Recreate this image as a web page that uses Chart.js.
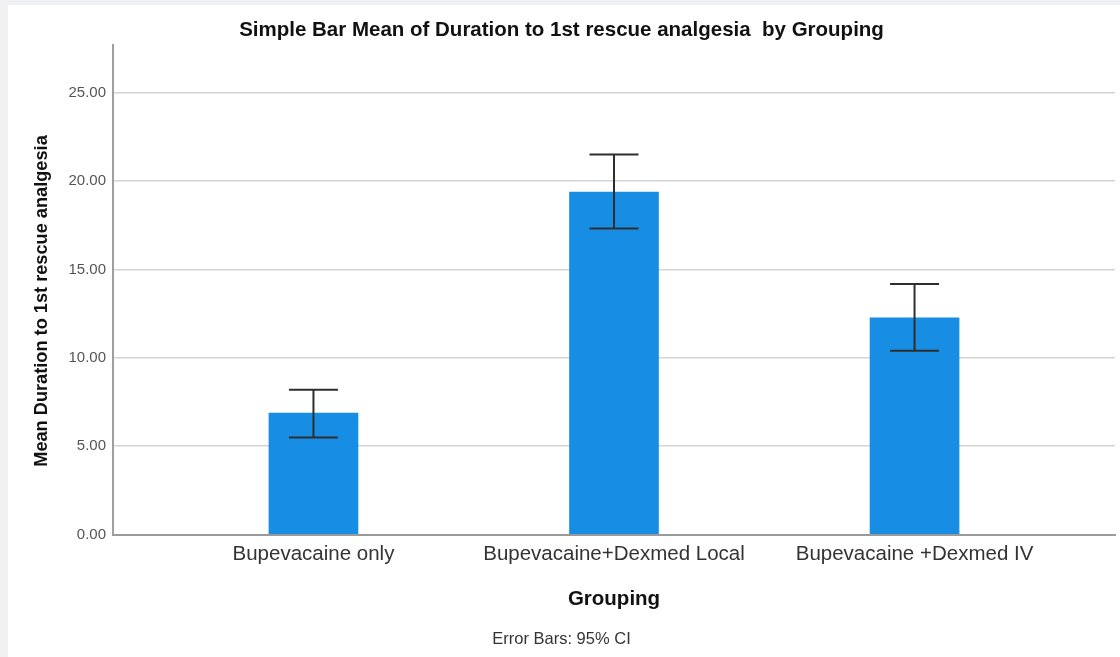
<!DOCTYPE html>
<html>
<head>
<meta charset="utf-8">
<script src="https://cdn.jsdelivr.net/npm/chart.js@4.4.1/dist/chart.umd.min.js"></script>
<style>
  html, body { margin: 0; padding: 0; background: #f0f1f3; width: 1120px; height: 657px; overflow: hidden; }
  #panel { position: absolute; left: 8px; top: 5px; width: 1112px; height: 652px; background: #ffffff; }
  canvas { display: block; }
</style>
</head>
<body>
<div id="panel"><canvas id="chart" width="1112" height="652"></canvas></div>
<script>
// Groups and their mean duration (hours) with 95% confidence limits
const groups = ['Bupevacaine only', 'Bupevacaine+Dexmed Local', 'Bupevacaine +Dexmed IV'];
const means = [6.87, 19.38, 12.26];
const ciLow = [5.49, 17.32, 10.40];
const ciHigh = [8.19, 21.51, 14.18];
const yTicks = [0, 5, 10, 15, 20, 25];

const FONT = '"Liberation Sans", Arial, sans-serif';

// Draws the 95% CI whiskers with caps over each bar
const errorBars = {
  id: 'errorBars',
  afterDatasetsDraw(chart) {
    const { ctx, scales: { x, y } } = chart;
    ctx.save();
    ctx.strokeStyle = '#2e2e2e';
    ctx.lineWidth = 2;
    groups.forEach((_, i) => {
      const px = x.getPixelForValue(i);
      const top = y.getPixelForValue(ciHigh[i]);
      const bot = y.getPixelForValue(ciLow[i]);
      const half = 24.5;
      ctx.beginPath();
      ctx.moveTo(px, top); ctx.lineTo(px, bot);
      ctx.moveTo(px - half, top); ctx.lineTo(px + half, top);
      ctx.moveTo(px - half, bot); ctx.lineTo(px + half, bot);
      ctx.stroke();
    });
    ctx.restore();
  }
};

// Vertical axis caption
const yCaption = {
  id: 'yCaption',
  afterDraw(chart) {
    const { ctx } = chart;
    ctx.save();
    ctx.translate(34, 296);
    ctx.rotate(-Math.PI / 2);
    ctx.font = 'bold 18.2px ' + FONT;
    ctx.fillStyle = '#111';
    ctx.textAlign = 'center';
    ctx.textBaseline = 'middle';
    ctx.fillText('Mean Duration to 1st rescue analgesia', 0, 0);
    ctx.restore();
  }
};

new Chart(document.getElementById('chart'), {
  type: 'bar',
  data: {
    datasets: [{
      data: means.map((v, i) => ({ x: i, y: v })),
      backgroundColor: '#178ee3',
      borderWidth: 0,
      barThickness: 89
    }]
  },
  plugins: [errorBars, yCaption],
  options: {
    responsive: false,
    animation: false,
    layout: { padding: { left: 0, right: 5, top: 0, bottom: 0 } },
    plugins: {
      legend: { display: false },
      tooltip: { enabled: false },
      title: {
        display: true,
        text: 'Simple Bar Mean of Duration to 1st rescue analgesia  by Grouping',
        color: '#111',
        font: { family: FONT, size: 20.5, weight: 'bold', lineHeight: 1.2 },
        padding: { top: 13, bottom: 2.4 }
      },
      subtitle: {
        display: true,
        position: 'bottom',
        text: 'Error Bars: 95% CI',
        color: '#333',
        font: { family: FONT, size: 16.5, lineHeight: 1.2 },
        padding: { top: 0, bottom: 8.1 }
      }
    },
    scales: {
      x: {
        type: 'linear',
        offset: false,
        min: -0.667,
        max: 2.667,
        afterBuildTicks(scale) { scale.ticks = groups.map((_, i) => ({ value: i })); },
        afterFit(scale) { scale.height = 94.6; },
        ticks: {
          callback: (v) => groups[v],
          color: '#333',
          font: { family: FONT, size: 20.5 },
          padding: 7.7,
          autoSkip: false,
          maxRotation: 0
        },
        grid: { display: false, drawTicks: false },
        border: { display: true, color: '#9a9a9a', width: 2 },
        title: {
          display: true,
          text: 'Grouping',
          color: '#111',
          font: { family: FONT, size: 20.5, weight: 'bold', lineHeight: 1.2 },
          padding: { top: 0, bottom: 17.8 }
        }
      },
      y: {
        min: 0,
        max: 27.7,
        afterBuildTicks(scale) { scale.ticks = yTicks.map(v => ({ value: v })); },
        afterFit(scale) { scale.width = 105; },
        ticks: {
          callback: (v) => v.toFixed(2),
          color: '#555',
          font: { family: FONT, size: 15 },
          padding: 7
        },
        grid: { color: '#d4d4d4', lineWidth: 1.5, drawTicks: false },
        border: { display: true, color: '#a0a0a0', width: 2 }
      }
    }
  }
});
</script>
</body>
</html>
